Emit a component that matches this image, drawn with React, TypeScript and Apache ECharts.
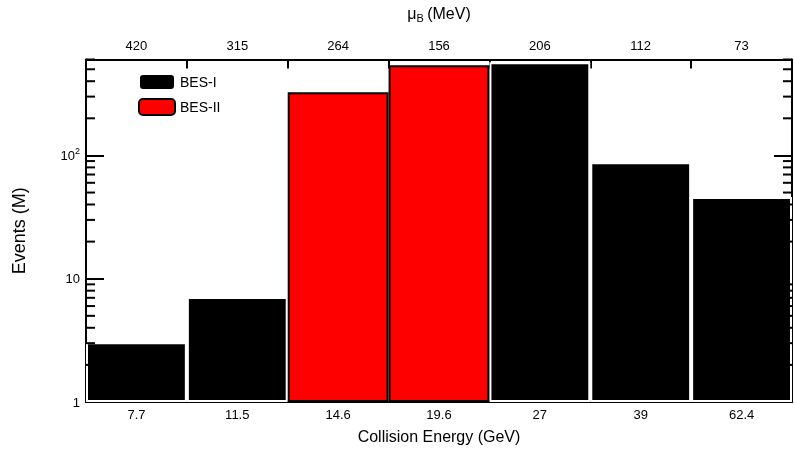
import React, { useEffect, useRef } from "react";
import * as echarts from "echarts";

const energies = ["7.7", "11.5", "14.6", "19.6", "27", "39", "62.4"];
const muB = ["420", "315", "264", "156", "206", "112", "73"];
const besI = [3.05, 7.1, null, null, 570, 88, 46];
const besII = [null, null, 325, 540, null, null, null];
const minorTicks = [2, 3, 4, 5, 6, 7, 8, 9, 20, 30, 40, 50, 60, 70, 80, 90, 200, 300, 400, 500, 600];

const FONT = "Liberation Sans, Arial, sans-serif";

const App: React.FC = () => {
  const chartRef = useRef<HTMLDivElement>(null);

  useEffect(() => {
    if (!chartRef.current) return;
    const chart = echarts.init(chartRef.current, undefined, { renderer: "svg" });
    const logAxis = {
      type: "log",
      logBase: 10,
      min: 1,
      max: 600,
      axisLine: { show: true, lineStyle: { color: "#000", width: 2 } },
      axisTick: { show: true, inside: true, length: 18, lineStyle: { width: 2 } },
      splitLine: { show: false },
    };
    const option = {
      animation: false,
      textStyle: { fontFamily: FONT },
      grid: { left: 86, right: 2, top: 53, bottom: 44 },
      legend: {
        left: 133,
        top: 68,
        orient: "vertical",
        itemWidth: 36,
        itemHeight: 16,
        itemGap: 7,
        textStyle: { fontSize: 14, color: "#000", fontFamily: FONT },
        data: ["BES-I", "BES-II"],
      },
      xAxis: [
        {
          type: "category",
          position: "bottom",
          data: energies,
          axisLine: { lineStyle: { color: "#000", width: 2 } },
          axisTick: { show: false },
          axisLabel: { color: "#000", fontSize: 13, margin: 6 },
          name: "Collision Energy (GeV)",
          nameLocation: "middle",
          nameGap: 26,
          nameTextStyle: { fontSize: 16, color: "#000" },
        },
        {
          type: "category",
          position: "top",
          data: muB,
          axisLine: { lineStyle: { color: "#000", width: 2 } },
          axisTick: { show: true, inside: true, length: 9, lineStyle: { width: 2 } },
          axisLabel: { color: "#000", fontSize: 13, margin: 8 },
          name: "{m|μ}{s|B} {m|(MeV)}",
          nameLocation: "middle",
          nameGap: 36,
          nameTextStyle: {
            rich: {
              m: { fontSize: 16, color: "#000", fontFamily: FONT },
              s: { fontSize: 11, color: "#000", fontFamily: FONT, verticalAlign: "bottom", padding: [10, 0, 0, 0] },
            },
          },
        },
      ],
      yAxis: [
        {
          ...logAxis,
          position: "left",
          axisLabel: {
            color: "#000",
            fontSize: 13,
            margin: 6,
            showMaxLabel: false,
            formatter: (v: number) => (v === 100 ? "10{sup|2}" : v === 1 || v === 10 ? String(v) : ""),
            rich: { sup: { fontSize: 9, verticalAlign: "top", padding: [0, 0, 8, 0] } },
          },
          name: "Events (M)",
          nameLocation: "middle",
          nameGap: 58,
          nameTextStyle: { fontSize: 18, color: "#000" },
        },
        {
          ...logAxis,
          position: "right",
          axisLabel: { show: false },
        },
      ],
      series: [
        {
          name: "BES-I",
          type: "bar",
          data: besI,
          barCategoryGap: "0%",
          barGap: "-100%",
          itemStyle: { color: "#000", borderColor: "#fff", borderWidth: 2 },
        },
        {
          name: "BES-II",
          type: "bar",
          data: besII,
          barCategoryGap: "0%",
          barGap: "-100%",
          itemStyle: { color: "#ff0000", borderColor: "#000", borderWidth: 2 },
        },
        {
          type: "custom",
          silent: true,
          data: minorTicks.map((v) => [0, v]),
          renderItem: (params: any, api: any) => {
            const y = api.coord([0, api.value(1)])[1];
            const x0 = params.coordSys.x;
            const x1 = params.coordSys.x + params.coordSys.width;
            return {
              type: "group",
              children: [
                { type: "line", shape: { x1: x0, y1: y, x2: x0 + 9, y2: y }, style: { stroke: "#000", lineWidth: 2 } },
                { type: "line", shape: { x1: x1, y1: y, x2: x1 - 9, y2: y }, style: { stroke: "#000", lineWidth: 2 } },
              ],
            };
          },
          z: 10,
        },
      ],
    };
    chart.setOption(option);
    return () => chart.dispose();
  }, []);

  return (
    <div
      ref={chartRef}
      style={{ position: "fixed", left: 0, top: 0, width: 794, height: 449 }}
    />
  );
};

export default App;
